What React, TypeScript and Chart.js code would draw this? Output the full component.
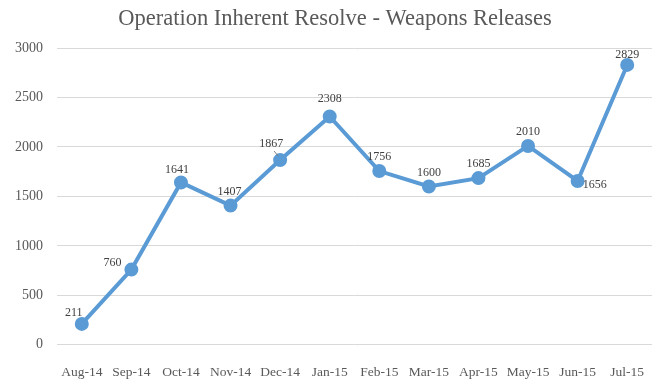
import React, { useEffect, useRef } from "react";
import { Chart, registerables } from "chart.js";

Chart.register(...registerables);

const TITLE = "Operation Inherent Resolve - Weapons Releases";
const MONTHS = ["Aug-14", "Sep-14", "Oct-14", "Nov-14", "Dec-14", "Jan-15", "Feb-15", "Mar-15", "Apr-15", "May-15", "Jun-15", "Jul-15"];
const RELEASES = [211, 760, 1641, 1407, 1867, 2308, 1756, 1600, 1685, 2010, 1656, 2829];
const Y_MIN = 0;
const Y_MAX = 3000;
const Y_STEP = 500;

const FONT = "'Liberation Serif', 'DejaVu Serif', serif";
const TEXT = "#595959";
const LINE = "#5B9BD5";

// label placement relative to point [dx, dy]
const LABEL_OFFSETS: [number, number][] = [
  [-8, -11], [-19, -7], [-4, -13], [-1, -14], [-9, -16], [0, -18],
  [0, -14], [0, -14], [0, -14], [0, -14], [17, 4], [0, -10],
];

const labelPlugin = {
  id: "pointLabels",
  afterDatasetsDraw(chart: any) {
    const ctx = chart.ctx;
    const meta = chart.getDatasetMeta(0);
    ctx.save();
    ctx.font = `12px ${FONT}`;
    ctx.fillStyle = "#404040";
    ctx.textAlign = "center";
    ctx.textBaseline = "middle";
    meta.data.forEach((pt: any, i: number) => {
      const [dx, dy] = LABEL_OFFSETS[i] || [0, -14];
      const v = chart.data.datasets[0].data[i];
      ctx.fillText(String(v), pt.x + dx, pt.y + dy);
      if (i === 4) {
        ctx.strokeStyle = "#7f7f7f";
        ctx.lineWidth = 1;
        ctx.beginPath();
        ctx.moveTo(pt.x - 6, pt.y - 9);
        ctx.lineTo(pt.x - 2, pt.y - 4);
        ctx.stroke();
      }
    });
    ctx.restore();
  },
};

export default function App() {
  const ref = useRef<HTMLCanvasElement | null>(null);
  useEffect(() => {
    if (!ref.current) return;
    const chart = new Chart(ref.current, {
      type: "line",
      data: {
        labels: MONTHS,
        datasets: [
          {
            data: RELEASES,
            yAxisID: "y",
            borderColor: LINE,
            backgroundColor: LINE,
            borderWidth: 4,
            pointRadius: 5,
            pointHoverRadius: 5,
            pointBackgroundColor: LINE,
            pointBorderColor: LINE,
            tension: 0,
          },
        ],
      },
      options: {
        animation: false,
        responsive: false,
        maintainAspectRatio: false,
        layout: { padding: { left: 0, right: 0, top: 0, bottom: -20 } },
        plugins: {
          legend: { display: false },
          tooltip: { enabled: false },
          title: {
            display: true,
            text: TITLE,
            color: TEXT,
            font: { family: FONT, size: 22.5, weight: "normal" },
            padding: { top: 6, bottom: 15 },
          },
        },
        scales: {
          x: {
            offset: true,
            grid: { display: false, drawTicks: false },
            border: { display: false },
            ticks: { color: TEXT, font: { family: FONT, size: 13.5 }, padding: 20, maxRotation: 0, autoSkip: false },
          },
          y: {
            min: Y_MIN,
            max: Y_MAX,
            grid: { color: "#d9d9d9", lineWidth: 1, drawTicks: false },
            border: { display: false },
            ticks: {
              stepSize: Y_STEP,
              color: TEXT,
              font: { family: FONT, size: 14 },
              padding: 14,
              callback: (v: any) => String(v),
            },
            afterFit: (scale: any) => {
              scale.width = 57;
            },
          },
          yRight: {
            position: "right",
            min: 0,
            max: 1,
            grid: { display: false, drawTicks: false },
            border: { display: false },
            ticks: { display: false },
            afterFit: (scale: any) => {
              scale.width = 18;
            },
          },
        },
      },
      plugins: [labelPlugin],
    });
    return () => chart.destroy();
  }, []);
  return (
    <div style={{ position: "fixed", left: 0, top: 0, width: 670, height: 381, background: "#fff" }}>
      <canvas ref={ref} width={670} height={381} style={{ width: 670, height: 381, display: "block" }} />
    </div>
  );
}
